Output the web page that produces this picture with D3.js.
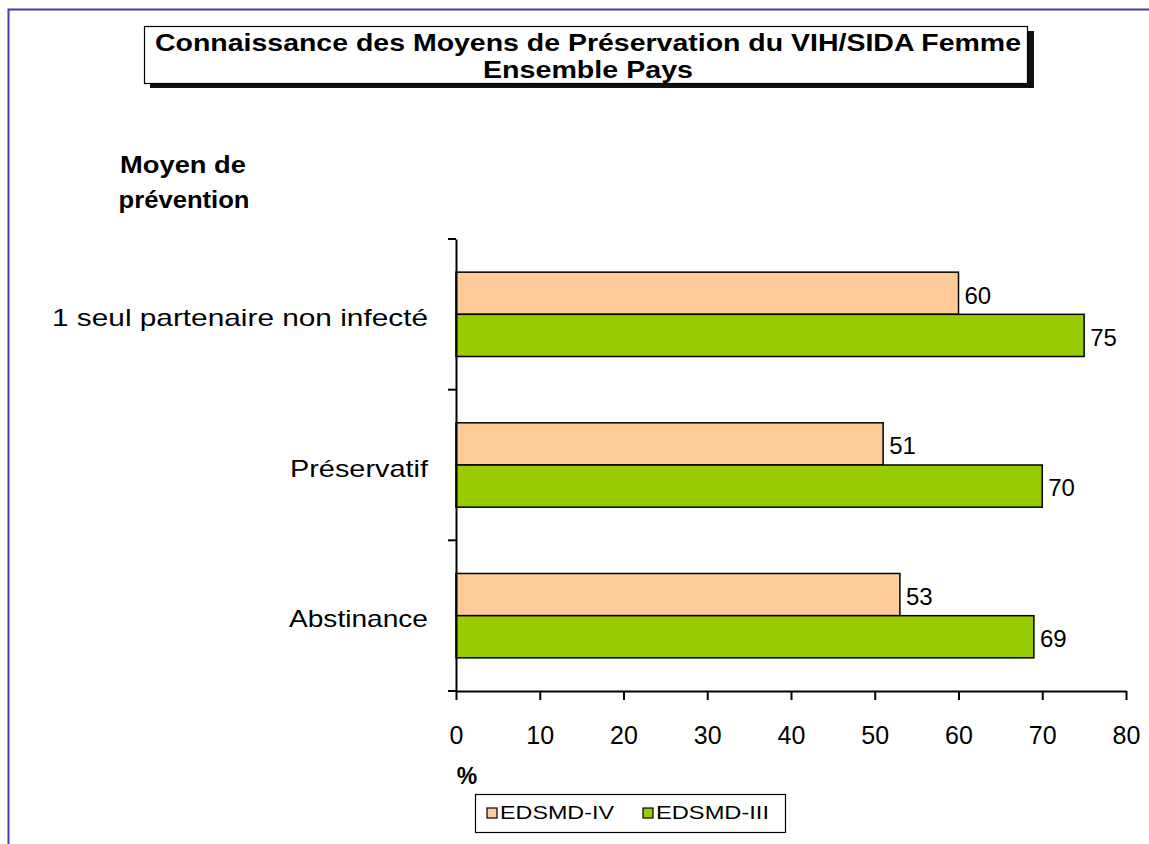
<!DOCTYPE html>
<html>
<head>
<meta charset="utf-8">
<script src="https://d3js.org/d3.v7.min.js"></script>
<style>
  body { margin: 0; background: #fff; }
  text { font-family: Arial, "Liberation Sans", sans-serif; }
</style>
</head>
<body>
<svg id="chart" width="1149" height="844"></svg>
<script>
// data
const categories = ["1 seul partenaire non infecté", "Préservatif", "Abstinance"];
const seriesNames = ["EDSMD-IV", "EDSMD-III"];
const edsmd4 = [60, 51, 53];
const edsmd3 = [75, 70, 69];
const xTicks = [0, 10, 20, 30, 40, 50, 60, 70, 80];
const colors = ["#FFCC99", "#99CC00"];

// widths the original text occupies (it was rendered stretched)
const catWidths = [376, 138, 139];
const legendWidths = [114, 113];

const svg = d3.select("#chart");

// outer frame (blue, opened to the right and bottom)
svg.append("path")
  .attr("d", "M8.5,844 V9.5 H1149")
  .attr("fill", "none")
  .attr("stroke", "#4040a0")
  .attr("stroke-width", 2);

// title box with shadow
svg.append("rect").attr("x", 150).attr("y", 31).attr("width", 884).attr("height", 57).attr("fill", "#111");
svg.append("rect").attr("x", 144.5).attr("y", 26.5).attr("width", 883).attr("height", 57)
  .attr("fill", "#fff").attr("stroke", "#000").attr("stroke-width", 1.2);
svg.append("text").attr("x", 588).attr("y", 51).attr("text-anchor", "middle")
  .attr("font-size", 23).attr("font-weight", "bold")
  .attr("textLength", 866).attr("lengthAdjust", "spacingAndGlyphs")
  .text("Connaissance des Moyens de Préservation du VIH/SIDA Femme");
svg.append("text").attr("x", 588).attr("y", 78).attr("text-anchor", "middle")
  .attr("font-size", 23).attr("font-weight", "bold")
  .attr("textLength", 210).attr("lengthAdjust", "spacingAndGlyphs")
  .text("Ensemble Pays");

// scales
const x = d3.scaleLinear().domain([0, 80]).range([456, 1126]);
const y = d3.scaleBand().domain(categories).range([239, 691]).paddingInner(0.44).paddingOuter(0.22);
const sub = d3.scaleBand().domain(seriesNames).range([0, y.bandwidth()]);

// bars
const groups = svg.append("g").selectAll("g")
  .data(categories)
  .join("g")
  .attr("transform", d => `translate(0,${y(d)})`);

const rows = (d, i) => [edsmd4[i], edsmd3[i]].map((v, j) => ({ key: seriesNames[j], v, j }));

groups.selectAll("rect")
  .data(rows)
  .join("rect")
  .attr("x", x(0))
  .attr("y", d => sub(d.key))
  .attr("width", d => x(d.v) - x(0))
  .attr("height", sub.bandwidth())
  .attr("fill", d => colors[d.j])
  .attr("stroke", "#000")
  .attr("stroke-width", 1.5);

groups.selectAll("text.val")
  .data(rows)
  .join("text")
  .attr("class", "val")
  .attr("x", d => x(d.v) + 6)
  .attr("y", d => sub(d.key) + sub.bandwidth() / 2 + 4)
  .attr("dominant-baseline", "middle")
  .attr("font-size", 24)
  .text(d => d.v);

// y axis
const bandY = d3.scaleBand().domain(categories).range([239, 691]);
const yAxis = d3.axisLeft(bandY).tickSize(0).tickPadding(28).tickSizeOuter(0);
const ya = svg.append("g").attr("transform", `translate(${x(0)},0)`).call(yAxis);
ya.select(".domain").attr("stroke", "#000").attr("stroke-width", 2);
ya.selectAll(".tick text")
  .attr("font-size", 24).attr("fill", "#000")
  .attr("font-family", "Arial, 'Liberation Sans', sans-serif")
  .attr("dy", "0.48em")
  .attr("textLength", (d, i) => catWidths[i]).attr("lengthAdjust", "spacingAndGlyphs");
// band boundary ticks
svg.append("g").selectAll("line")
  .data(d3.range(categories.length + 1))
  .join("line")
  .attr("x1", x(0) - 8).attr("x2", x(0))
  .attr("y1", i => 239 + i * bandY.step()).attr("y2", i => 239 + i * bandY.step())
  .attr("stroke", "#000").attr("stroke-width", 2);

// x axis
const xAxis = d3.axisBottom(x).tickValues(xTicks).tickSize(9).tickPadding(26).tickSizeOuter(0);
const xa = svg.append("g").attr("transform", "translate(0,691)").call(xAxis);
xa.select(".domain").attr("stroke", "#000").attr("stroke-width", 2);
xa.selectAll(".tick line").attr("stroke", "#000").attr("stroke-width", 2);
xa.selectAll(".tick text").attr("font-size", 25).attr("fill", "#000")
  .attr("font-family", "Arial, 'Liberation Sans', sans-serif");

// axis titles
svg.append("text").attr("x", 467).attr("y", 784).attr("text-anchor", "middle")
  .attr("font-size", 23).attr("font-weight", "bold").text("%");
svg.append("text").attr("x", 183).attr("y", 173).attr("text-anchor", "middle")
  .attr("font-size", 23).attr("font-weight", "bold")
  .attr("textLength", 126).attr("lengthAdjust", "spacingAndGlyphs").text("Moyen de");
svg.append("text").attr("x", 184).attr("y", 208).attr("text-anchor", "middle")
  .attr("font-size", 23).attr("font-weight", "bold")
  .attr("textLength", 131).attr("lengthAdjust", "spacingAndGlyphs").text("prévention");

// legend
const lg = svg.append("g");
lg.append("rect").attr("x", 475.5).attr("y", 794.5).attr("width", 310).attr("height", 38)
  .attr("fill", "#fff").attr("stroke", "#000").attr("stroke-width", 1.2);
const legendX = [487, 643];
seriesNames.forEach((s, i) => {
  lg.append("rect").attr("x", legendX[i]).attr("y", 808).attr("width", 10).attr("height", 10)
    .attr("fill", colors[i]).attr("stroke", "#000").attr("stroke-width", 1.2);
  lg.append("text").attr("x", legendX[i] + 13).attr("y", 814).attr("dominant-baseline", "middle")
    .attr("font-size", 19)
    .attr("textLength", legendWidths[i]).attr("lengthAdjust", "spacingAndGlyphs")
    .text(s);
});
</script>
</body>
</html>
